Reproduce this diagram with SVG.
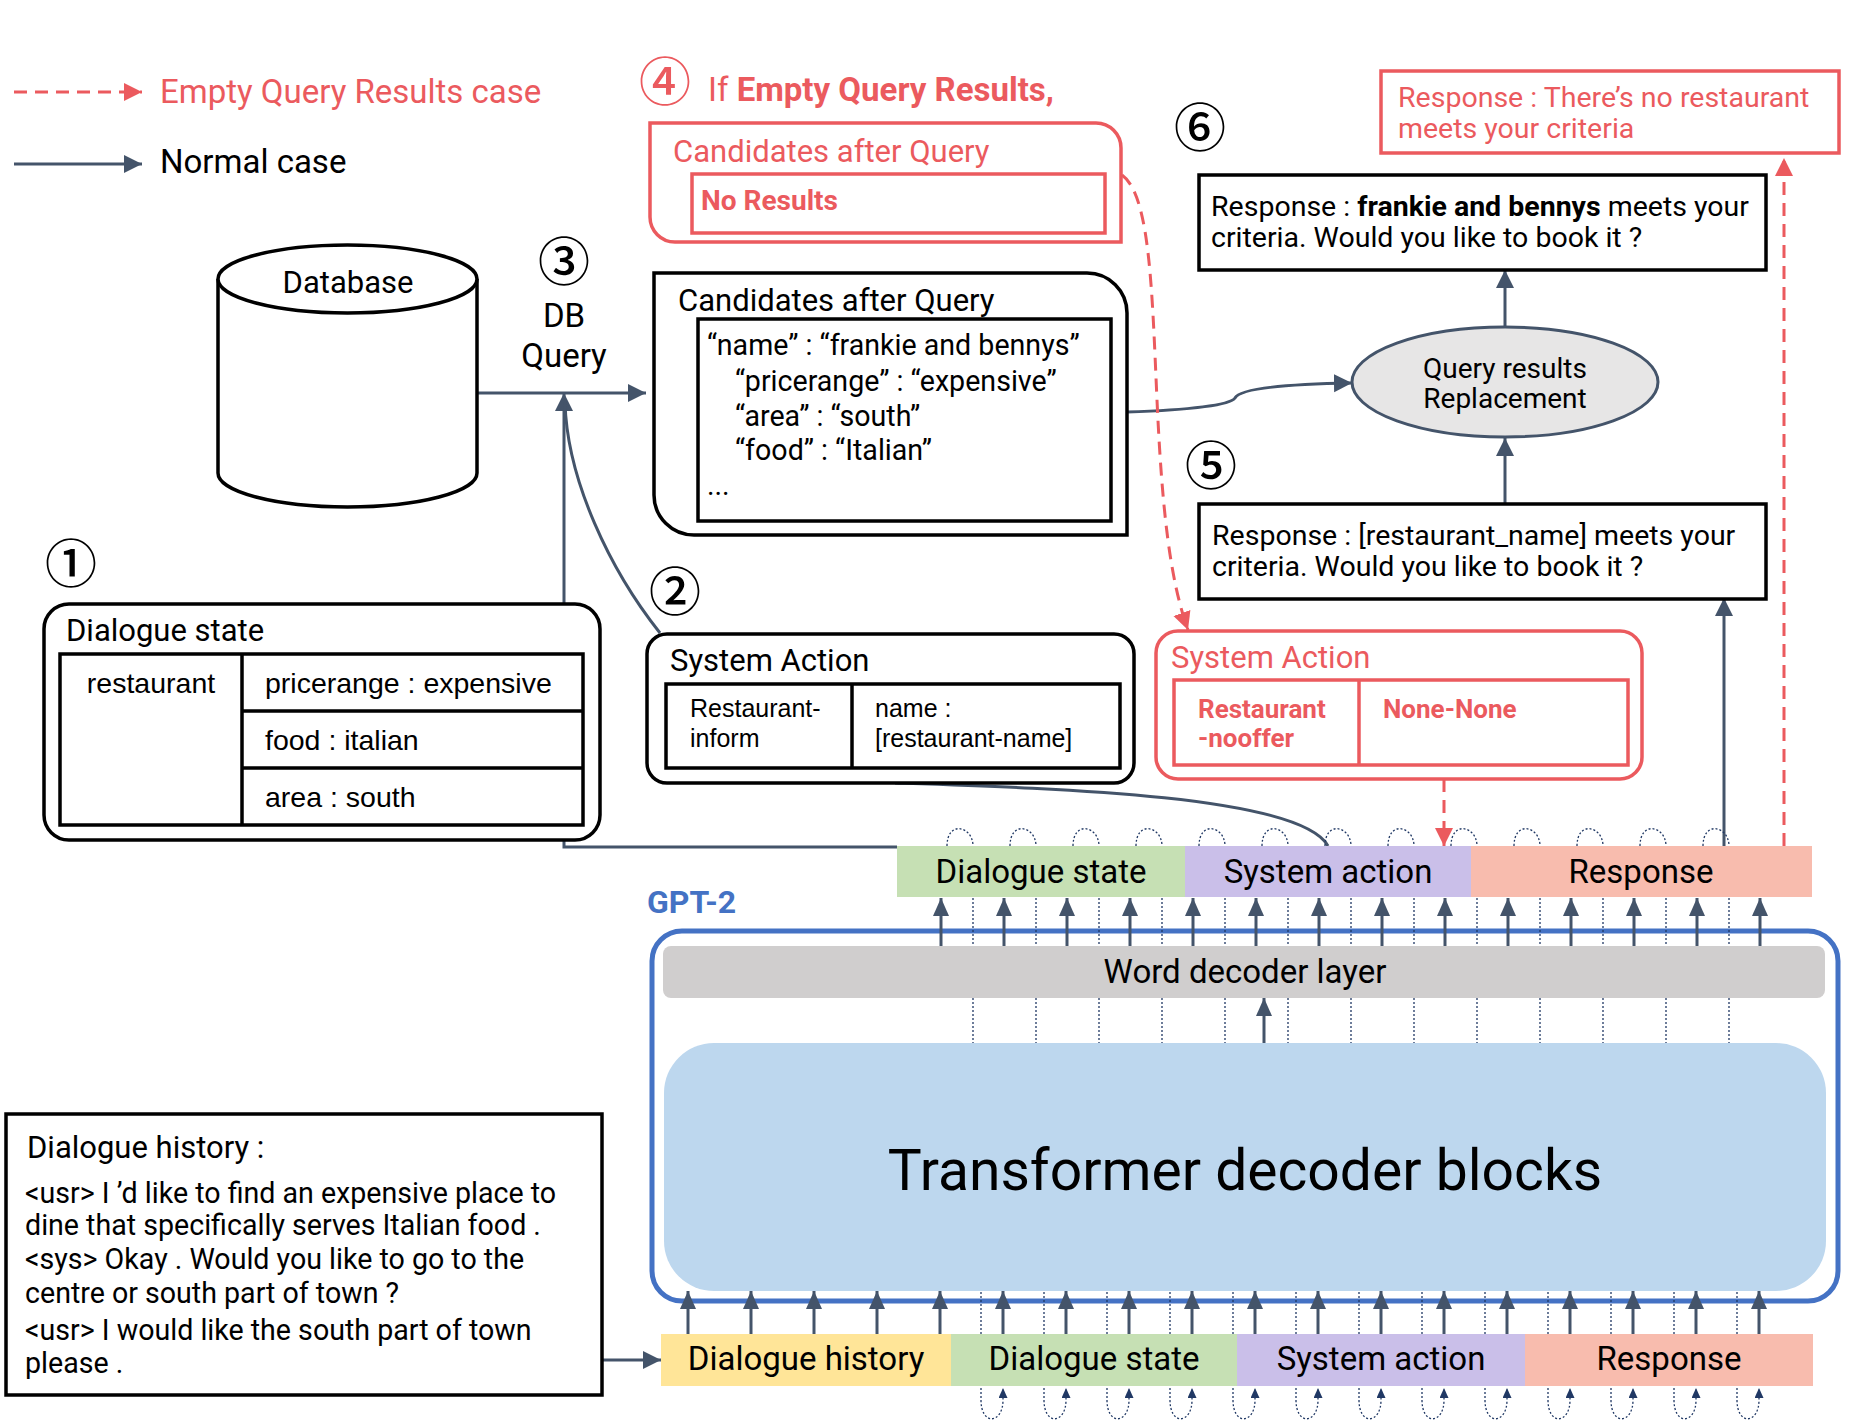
<svg xmlns="http://www.w3.org/2000/svg" width="1850" height="1428" viewBox="0 0 1850 1428">
<defs>
<marker id="ah" markerUnits="userSpaceOnUse" markerWidth="20" markerHeight="20" refX="18" refY="9" orient="auto"><path d="M0,0 L18,9 L0,18 z" fill="#44546A"/></marker>
<marker id="ahs" markerUnits="userSpaceOnUse" markerWidth="20" markerHeight="18" refX="18" refY="8" orient="auto"><path d="M0,0 L18,8 L0,16 z" fill="#44546A"/></marker>
<marker id="ahr" markerUnits="userSpaceOnUse" markerWidth="20" markerHeight="20" refX="18" refY="9" orient="auto"><path d="M0,0 L18,9 L0,18 z" fill="#EB5A5E"/></marker>
<marker id="ahn" markerUnits="userSpaceOnUse" markerWidth="12" markerHeight="10" refX="10" refY="4.5" orient="auto"><path d="M0,0 L10,4.5 L0,9 z" fill="#203864"/></marker>
</defs>
<style>
text{font-family:Roboto,"Liberation Sans",sans-serif;fill:#000}
.t31{font-size:31px}
.t29{font-size:28.6px}
.t28{font-size:28.5px}
.t33{font-size:33px}
.hist{font-size:28.6px}
.arial{font-family:"Liberation Sans",Arial,sans-serif;font-size:28.5px}
.arial25{font-family:"Liberation Sans",Arial,sans-serif;font-size:25px}
.red{fill:#EB5A5E}
.b{font-weight:bold}
.circ{font-family:"Noto Sans CJK JP","Noto Sans CJK SC",sans-serif;font-size:52px;font-weight:500;text-anchor:middle}
.box{fill:#fff;stroke:#000;stroke-width:3.5}
.rbox{fill:#fff;stroke:#EB5A5E;stroke-width:3.5}
.ln{fill:none;stroke:#44546A;stroke-width:3}
.lnr{fill:none;stroke:#EB5A5E;stroke-width:3;stroke-dasharray:13 8}
.dot{fill:none;stroke:#203864;stroke-width:1.3;stroke-dasharray:2 2}
.mid{text-anchor:middle}
</style>
<rect width="1850" height="1428" fill="#fff"/>

<g id="legend">
<path class="lnr" d="M14,92 H142" marker-end="url(#ahr)"/>
<text x="160" y="103" class="t33 red">Empty Query Results case</text>
<path class="ln" d="M14,164 H142" marker-end="url(#ah)"/>
<text x="160" y="173" class="t33">Normal case</text>
</g>

<g id="gpt2">
<rect x="652" y="931" width="1186" height="370" rx="30" fill="#fff" stroke="#4472C4" stroke-width="5"/>
<text x="647" y="913" class="b" style="font-size:32px;fill:#4472C4">GPT-2</text>
</g>

<g id="connectors">
<path class="ln" d="M477,393 H646" marker-end="url(#ah)"/>
<path class="ln" d="M897,847 H564 V393" marker-end="url(#ah)"/>
<path class="ln" d="M660,633 C610,570 567,480 565,402"/>
<path class="ln" d="M895,783 C1050,788 1300,795 1328,846"/>
<path class="ln" d="M1127,412 C1190,410 1230,405 1235,398 C1240,388 1290,384 1352,383" marker-end="url(#ah)"/>
<path class="ln" d="M1505,504 V438" marker-end="url(#ah)"/>
<path class="ln" d="M1505,327 V270" marker-end="url(#ah)"/>
<path class="ln" d="M1724,846 V598" marker-end="url(#ah)"/>
<path class="lnr" d="M1784,846 V158" marker-end="url(#ahr)"/>
<path class="lnr" d="M1122,175 C1150,195 1152,290 1157,400 C1162,510 1170,580 1188,630" marker-end="url(#ahr)"/>
<path class="lnr" d="M1444,779 V846" marker-end="url(#ahr)"/>
<path class="ln" d="M602,1360 H661" marker-end="url(#ah)"/>
<path class="ln" d="M1264,1043 V998" marker-end="url(#ahs)"/>
<g id="top-arrows">
<path class="ln" d="M941,946 V898" marker-end="url(#ahs)"/>
<path class="ln" d="M1004,946 V898" marker-end="url(#ahs)"/>
<path class="ln" d="M1067,946 V898" marker-end="url(#ahs)"/>
<path class="ln" d="M1130,946 V898" marker-end="url(#ahs)"/>
<path class="ln" d="M1193,946 V898" marker-end="url(#ahs)"/>
<path class="ln" d="M1256,946 V898" marker-end="url(#ahs)"/>
<path class="ln" d="M1319,946 V898" marker-end="url(#ahs)"/>
<path class="ln" d="M1382,946 V898" marker-end="url(#ahs)"/>
<path class="ln" d="M1445,946 V898" marker-end="url(#ahs)"/>
<path class="ln" d="M1508,946 V898" marker-end="url(#ahs)"/>
<path class="ln" d="M1571,946 V898" marker-end="url(#ahs)"/>
<path class="ln" d="M1634,946 V898" marker-end="url(#ahs)"/>
<path class="ln" d="M1697,946 V898" marker-end="url(#ahs)"/>
<path class="ln" d="M1760,946 V898" marker-end="url(#ahs)"/>
</g>
<g id="top-dotted">
<path class="dot" d="M947,846 C947,820 973,826 973,846 V1043"/>
<path class="dot" d="M1010,846 C1010,820 1036,826 1036,846 V1043"/>
<path class="dot" d="M1073,846 C1073,820 1099,826 1099,846 V1043"/>
<path class="dot" d="M1136,846 C1136,820 1162,826 1162,846 V1043"/>
<path class="dot" d="M1199,846 C1199,820 1225,826 1225,846 V1043"/>
<path class="dot" d="M1262,846 C1262,820 1288,826 1288,846 V1043"/>
<path class="dot" d="M1325,846 C1325,820 1351,826 1351,846 V1043"/>
<path class="dot" d="M1388,846 C1388,820 1414,826 1414,846 V1043"/>
<path class="dot" d="M1451,846 C1451,820 1477,826 1477,846 V1043"/>
<path class="dot" d="M1514,846 C1514,820 1540,826 1540,846 V1043"/>
<path class="dot" d="M1577,846 C1577,820 1603,826 1603,846 V1043"/>
<path class="dot" d="M1640,846 C1640,820 1666,826 1666,846 V1043"/>
<path class="dot" d="M1703,846 C1703,820 1729,826 1729,846 V1043"/>
</g>
<g id="bottom-arrows">
<path class="ln" d="M688,1334 V1291" marker-end="url(#ahs)"/>
<path class="ln" d="M751,1334 V1291" marker-end="url(#ahs)"/>
<path class="ln" d="M814,1334 V1291" marker-end="url(#ahs)"/>
<path class="ln" d="M877,1334 V1291" marker-end="url(#ahs)"/>
<path class="ln" d="M940,1334 V1291" marker-end="url(#ahs)"/>
<path class="ln" d="M1003,1334 V1291" marker-end="url(#ahs)"/>
<path class="ln" d="M1066,1334 V1291" marker-end="url(#ahs)"/>
<path class="ln" d="M1129,1334 V1291" marker-end="url(#ahs)"/>
<path class="ln" d="M1192,1334 V1291" marker-end="url(#ahs)"/>
<path class="ln" d="M1255,1334 V1291" marker-end="url(#ahs)"/>
<path class="ln" d="M1318,1334 V1291" marker-end="url(#ahs)"/>
<path class="ln" d="M1381,1334 V1291" marker-end="url(#ahs)"/>
<path class="ln" d="M1444,1334 V1291" marker-end="url(#ahs)"/>
<path class="ln" d="M1507,1334 V1291" marker-end="url(#ahs)"/>
<path class="ln" d="M1570,1334 V1291" marker-end="url(#ahs)"/>
<path class="ln" d="M1633,1334 V1291" marker-end="url(#ahs)"/>
<path class="ln" d="M1696,1334 V1291" marker-end="url(#ahs)"/>
<path class="ln" d="M1759,1334 V1291" marker-end="url(#ahs)"/>
</g>
<g id="bottom-dotted">
<path class="dot" d="M981,1292 V1400 C981,1426 1003,1424 1003,1400 V1388" marker-end="url(#ahn)"/>
<path class="dot" d="M1044,1292 V1400 C1044,1426 1066,1424 1066,1400 V1388" marker-end="url(#ahn)"/>
<path class="dot" d="M1107,1292 V1400 C1107,1426 1129,1424 1129,1400 V1388" marker-end="url(#ahn)"/>
<path class="dot" d="M1170,1292 V1400 C1170,1426 1192,1424 1192,1400 V1388" marker-end="url(#ahn)"/>
<path class="dot" d="M1233,1292 V1400 C1233,1426 1255,1424 1255,1400 V1388" marker-end="url(#ahn)"/>
<path class="dot" d="M1296,1292 V1400 C1296,1426 1318,1424 1318,1400 V1388" marker-end="url(#ahn)"/>
<path class="dot" d="M1359,1292 V1400 C1359,1426 1381,1424 1381,1400 V1388" marker-end="url(#ahn)"/>
<path class="dot" d="M1422,1292 V1400 C1422,1426 1444,1424 1444,1400 V1388" marker-end="url(#ahn)"/>
<path class="dot" d="M1485,1292 V1400 C1485,1426 1507,1424 1507,1400 V1388" marker-end="url(#ahn)"/>
<path class="dot" d="M1548,1292 V1400 C1548,1426 1570,1424 1570,1400 V1388" marker-end="url(#ahn)"/>
<path class="dot" d="M1611,1292 V1400 C1611,1426 1633,1424 1633,1400 V1388" marker-end="url(#ahn)"/>
<path class="dot" d="M1674,1292 V1400 C1674,1426 1696,1424 1696,1400 V1388" marker-end="url(#ahn)"/>
<path class="dot" d="M1737,1292 V1400 C1737,1426 1759,1424 1759,1400 V1388" marker-end="url(#ahn)"/>
</g>
</g>

<g id="empty-header">
<text x="665" y="101" class="circ red">④</text>
<text x="708" y="101" class="t33 red">If <tspan class="b">Empty Query Results,</tspan></text>
</g>

<g id="candidates-empty">
<path class="rbox" d="M650,123 H1096 A25,25 0 0 1 1121,148 V242 H675 A25,25 0 0 1 650,217 Z"/>
<text x="673" y="162" class="t31 red">Candidates after Query</text>
<rect x="692" y="174" width="413" height="59" fill="none" stroke="#EB5A5E" stroke-width="3.5"/>
<text x="701" y="210" class="b red" style="font-size:28px">No Results</text>
</g>

<g id="response-empty">
<rect x="1381" y="71" width="458" height="82" class="rbox"/>
<text x="1398" y="107" class="t28 red">Response : There’s no restaurant</text>
<text x="1398" y="138" class="t28 red">meets your criteria</text>
</g>

<g id="response-final">
<text x="1200" y="147" class="circ">⑥</text>
<rect x="1199" y="175" width="567" height="95" class="box"/>
<text x="1211" y="216" class="t28">Response : <tspan class="b">frankie and bennys</tspan> meets your</text>
<text x="1211" y="247" class="t28">criteria. Would you like to book it ?</text>
</g>

<g id="database">
<path d="M218,279 V473 A129.5,34 0 0 0 477,473 V279" fill="#fff" stroke="#000" stroke-width="3.5"/>
<ellipse cx="347.5" cy="279" rx="129.5" ry="34" fill="#fff" stroke="#000" stroke-width="3.5"/>
<text x="348" y="293" class="t31 mid">Database</text>
</g>

<g id="db-query">
<text x="564" y="281" class="circ">③</text>
<text x="564" y="327" class="t33 mid">DB</text>
<text x="564" y="367" class="t33 mid">Query</text>
</g>

<g id="candidates">
<path class="box" d="M654,273 H1087 A40,40 0 0 1 1127,313 V535 H694 A40,40 0 0 1 654,495 Z"/>
<text x="678" y="311" class="t31">Candidates after Query</text>
<rect x="698" y="319" width="413" height="202" fill="none" stroke="#000" stroke-width="3.5"/>
<text x="707" y="355" class="t29">“name” : “frankie and bennys”</text>
<text x="735" y="391" class="t29">“pricerange” : “expensive”</text>
<text x="735" y="426" class="t29">“area” : “south”</text>
<text x="735" y="460" class="t29">“food” : “Italian”</text>
<text x="707" y="495" class="t29">...</text>
</g>

<g id="query-replacement">
<ellipse cx="1505" cy="382" rx="153" ry="55" fill="#E7E6E6" stroke="#44546A" stroke-width="3"/>
<text x="1505" y="378" class="mid" style="font-size:28px">Query results</text>
<text x="1505" y="408" class="mid" style="font-size:28px">Replacement</text>
</g>

<g id="response-template">
<text x="1211" y="485" class="circ">⑤</text>
<rect x="1199" y="504" width="567" height="95" class="box"/>
<text x="1212" y="545" class="t28">Response : [restaurant_name] meets your</text>
<text x="1212" y="576" class="t28">criteria. Would you like to book it ?</text>
</g>

<g id="dialogue-state">
<text x="71" y="583" class="circ">①</text>
<rect x="44" y="604" width="556" height="236" rx="25" class="box"/>
<text x="66" y="641" class="t31">Dialogue state</text>
<rect x="60" y="654" width="523" height="171" fill="none" stroke="#000" stroke-width="3.5"/>
<path d="M242,654 V825 M242,711 H583 M242,768 H583" stroke="#000" stroke-width="3.5"/>
<text x="151" y="693" class="arial mid">restaurant</text>
<text x="265" y="693" class="arial">pricerange : expensive</text>
<text x="265" y="750" class="arial">food : italian</text>
<text x="265" y="807" class="arial">area : south</text>
</g>

<g id="system-action">
<text x="675" y="611" class="circ">②</text>
<rect x="647" y="634" width="487" height="149" rx="20" class="box"/>
<text x="670" y="671" class="t31">System Action</text>
<rect x="666" y="684" width="454" height="84" fill="none" stroke="#000" stroke-width="3.5"/>
<path d="M852,684 V768" stroke="#000" stroke-width="3.5"/>
<text x="690" y="717" class="arial25">Restaurant-</text>
<text x="690" y="747" class="arial25">inform</text>
<text x="875" y="717" class="arial25">name :</text>
<text x="875" y="747" class="arial25">[restaurant-name]</text>
</g>

<g id="system-action-empty">
<rect x="1156" y="631" width="486" height="148" rx="22" class="rbox"/>
<text x="1171" y="668" class="t31 red">System Action</text>
<rect x="1174" y="680" width="454" height="85" fill="none" stroke="#EB5A5E" stroke-width="3.5"/>
<path d="M1359,680 V765" stroke="#EB5A5E" stroke-width="3.5"/>
<text x="1198" y="718" class="b red" style="font-size:26px">Restaurant</text>
<text x="1198" y="747" class="b red" style="font-size:26px">-nooffer</text>
<text x="1383" y="718" class="b red" style="font-size:26px">None-None</text>
</g>

<g id="output-tokens">
<rect x="897" y="846" width="288" height="51" fill="#C6E0B4"/>
<rect x="1185" y="846" width="286" height="51" fill="#CABFE9"/>
<rect x="1471" y="846" width="341" height="51" fill="#F8BCAE"/>
<text x="1041" y="883" class="t33 mid">Dialogue state</text>
<text x="1328" y="883" class="t33 mid">System action</text>
<text x="1641" y="883" class="t33 mid">Response</text>
</g>

<g id="word-decoder">
<rect x="663" y="946" width="1162" height="52" rx="8" fill="#D0CECE"/>
<text x="1245" y="983" class="t33 mid">Word decoder layer</text>
</g>

<g id="transformer">
<rect x="664" y="1043" width="1162" height="248" rx="50" fill="#BDD7EE"/>
<text x="1245" y="1190" class="mid" style="font-size:57px">Transformer decoder blocks</text>
</g>

<g id="input-tokens">
<rect x="661" y="1334" width="290" height="52" fill="#FFE598"/>
<rect x="951" y="1334" width="286" height="52" fill="#C6E0B4"/>
<rect x="1237" y="1334" width="288" height="52" fill="#CABFE9"/>
<rect x="1525" y="1334" width="288" height="52" fill="#F8BCAE"/>
<text x="806" y="1370" class="t33 mid">Dialogue history</text>
<text x="1094" y="1370" class="t33 mid">Dialogue state</text>
<text x="1381" y="1370" class="t33 mid">System action</text>
<text x="1669" y="1370" class="t33 mid">Response</text>
</g>

<g id="dialogue-history">
<rect x="6" y="1114" width="596" height="281" class="box"/>
<text x="27" y="1158" class="t31">Dialogue history :</text>
<text x="25" y="1203" class="hist">&lt;usr&gt; I ’d like to find an expensive place to</text>
<text x="25" y="1235" class="hist">dine that specifically serves Italian food .</text>
<text x="25" y="1269" class="hist">&lt;sys&gt; Okay . Would you like to go to the</text>
<text x="25" y="1303" class="hist">centre or south part of town ?</text>
<text x="25" y="1340" class="hist">&lt;usr&gt; I would like the south part of town</text>
<text x="25" y="1373" class="hist">please .</text>
</g>
</svg>
